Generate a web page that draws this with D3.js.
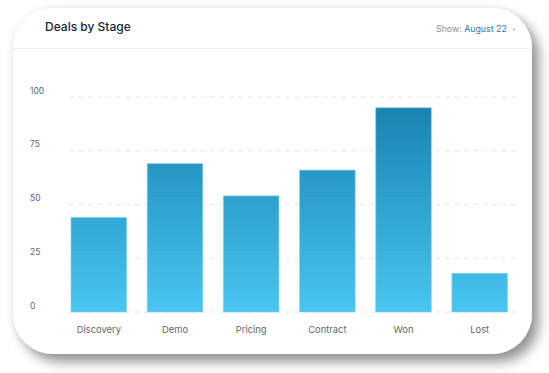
<!DOCTYPE html>
<html>
<head>
<meta charset="utf-8">
<script src="https://cdn.jsdelivr.net/npm/d3@7"></script>
<style>
html,body{margin:0;padding:0;background:#fff;}
svg{display:block;font-family:Inter,"Open Sans",sans-serif;}
</style>
</head>
<body>
<svg id="chart" width="549" height="373"></svg>
<script>
const categories = ["Discovery","Demo","Pricing","Contract","Won","Lost"];
const values = [44, 69, 54, 66, 95, 18];
const yTicks = [0, 25, 50, 75, 100];
const title = "Deals by Stage";
const showLabel = "Show:";
const showValue = "August 22";

const svg = d3.select("#chart");
const defs = svg.append("defs");

const f = defs.append("filter").attr("id","shadow").attr("x","-10%").attr("y","-10%").attr("width","125%").attr("height","135%");
f.append("feDropShadow").attr("dx",0).attr("dy",0).attr("stdDeviation",4).attr("flood-color","#000").attr("flood-opacity",0.08).attr("result","s1");
f.append("feDropShadow").attr("dx",7).attr("dy",8).attr("stdDeviation",6).attr("flood-color","#000").attr("flood-opacity",0.4);

// card
svg.append("rect").attr("x",13).attr("y",8).attr("width",519).attr("height",346)
  .attr("rx",40).attr("ry",40).attr("fill","#fff").attr("filter","url(#shadow)");

// header
svg.append("text").attr("x",45).attr("y",30.5).text(title)
  .attr("font-size",12).attr("font-weight",500).attr("fill","#1c2536");
const sh = svg.append("text").attr("x",436).attr("y",32).attr("font-size",8.8);
sh.append("tspan").text(showLabel + " ").attr("fill","#8a8f98");
sh.append("tspan").text(showValue).attr("fill","#2a7db3");
svg.append("circle").attr("cx",514).attr("cy",29.5).attr("r",0.9).attr("fill","#9aa0a8");
svg.append("line").attr("x1",13).attr("x2",532).attr("y1",48.5).attr("y2",48.5)
  .attr("stroke","#f0f0f3").attr("stroke-width",1);

// scales
const y = d3.scaleLinear().domain([0,100]).range([312,97]);
const x = d3.scaleBand().domain(categories).range([71,507.5]).paddingInner(0.27).paddingOuter(0);

const grad = defs.append("linearGradient").attr("id","barGrad")
  .attr("gradientUnits","userSpaceOnUse").attr("x1",0).attr("x2",0).attr("y1",y(100)).attr("y2",y(0));
grad.append("stop").attr("offset","0%").attr("stop-color","#1680ae");
grad.append("stop").attr("offset","100%").attr("stop-color","#48c6f1");

// grid
const gy = svg.append("g").attr("transform","translate(69,0)");
gy.selectAll("line.grid").data(yTicks).join("line").attr("class","grid")
  .attr("x1",0).attr("x2",447).attr("y1",d=>y(d)).attr("y2",d=>y(d))
  .attr("stroke","#e6e6ea").attr("stroke-width",1).attr("stroke-dasharray","5,4.4");
gy.selectAll("text.yl").data(yTicks).join("text").attr("class","yl")
  .attr("x",-39).attr("y",d=>y(d)-3.5).text(d=>d3.format("d")(d))
  .attr("font-size",8.5).attr("fill","#62666d");

// bars
svg.append("g").selectAll("rect").data(values).join("rect")
  .attr("x",(d,i)=>x(categories[i])).attr("width",x.bandwidth())
  .attr("y",d=>y(d)).attr("height",d=>y(0)-y(d))
  .attr("fill","url(#barGrad)").attr("stroke","#86d2f0").attr("stroke-width",0.8).attr("stroke-opacity",0.8);

// x labels
const xAxis = d3.axisBottom(x).tickSize(0);
const gx = svg.append("g").attr("transform","translate(0,312)").call(xAxis);
gx.select(".domain").remove();
gx.selectAll("text").attr("dy",0).attr("y",20.5).attr("font-size",9.4).attr("fill","#62666d")
  .attr("font-family","Inter,'Open Sans',sans-serif");
</script>
</body>
</html>
